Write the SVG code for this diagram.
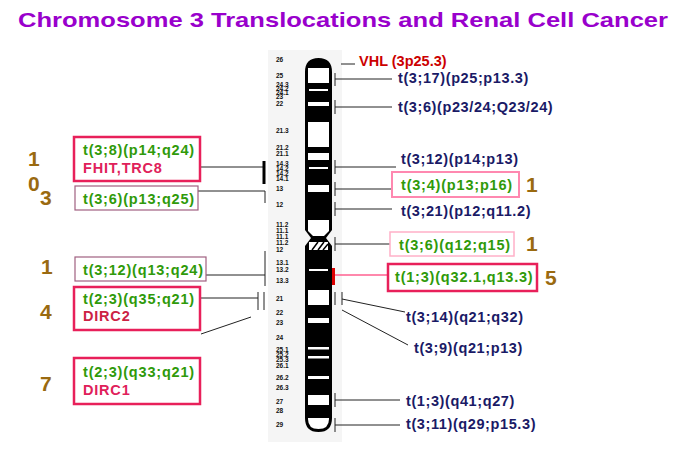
<svg xmlns="http://www.w3.org/2000/svg" width="686" height="462" viewBox="0 0 686 462">
<style>
text{font-family:"Liberation Sans",Arial,sans-serif;font-weight:bold}
.g{fill:#2f9a0a;font-size:14.5px;letter-spacing:0.8px}
.n{fill:#1a1a66;font-size:14.5px;letter-spacing:0.6px}
.r{fill:#e0205a;font-size:14.5px;letter-spacing:0.8px}
.num{fill:#9a6a10;font-size:21px}
.b{fill:#111;font-size:6.5px}
.ln{stroke:#222;stroke-width:1;fill:none}
.bx{fill:none;stroke:#e8205a;stroke-width:2.5}
.bm{fill:none;stroke:#a06080;stroke-width:1.2}
.bp{fill:none;stroke:#ff88b0;stroke-width:2}
.wb{fill:#fff}
</style>
<rect width="686" height="462" fill="#fff"/>
<rect x="268" y="50" width="74" height="392" fill="#f5f5f5"/>
<text x="343" y="27" text-anchor="middle" font-size="21" fill="#9900cc" textLength="650" lengthAdjust="spacingAndGlyphs">Chromosome 3 Translocations and Renal Cell Cancer</text>

<g id="chromosome">
<path d="M305,72 Q305,58 318.5,58 Q332,58 332,72 L332,230 L326,238 L332,246 L332,418 Q332,432 318.5,432 Q305,432 305,418 L305,246 L311,238 L305,230 Z" fill="#000"/>
<rect class="wb" x="308" y="68" width="21" height="15"/>
<rect class="wb" x="309" y="89" width="19" height="2"/>
<rect class="wb" x="308" y="102" width="21" height="4"/>
<rect class="wb" x="308" y="122" width="21" height="25"/>
<rect class="wb" x="308" y="153" width="21" height="7"/>
<rect class="wb" x="309" y="167" width="19" height="2"/>
<rect class="wb" x="308" y="185" width="21" height="7"/>
<path class="wb" d="M308,220 L329,220 L329,231 L324,236 L313,236 L308,231 Z"/>
<path class="wb" d="M309,242 L328,242 L328,250 L309,250 Z"/>
<path d="M312,250 L318,242 M318,250 L324,242 M323,250 L328,244" stroke="#000" stroke-width="1.5"/>
<rect class="wb" x="309" y="269" width="19" height="2"/>
<rect class="wb" x="308" y="290" width="21" height="15"/>
<rect class="wb" x="308" y="318" width="21" height="5"/>
<rect class="wb" x="308" y="347" width="21" height="2.5"/>
<rect class="wb" x="308" y="356" width="21" height="2.5"/>
<rect class="wb" x="308" y="376" width="21" height="3"/>
<rect class="wb" x="308" y="395" width="21" height="10"/>
<path class="wb" d="M308,418 L329,418 L329,419 Q329,429 318.5,429 Q308,429 308,419 Z"/>
<rect x="332" y="268" width="3" height="17" fill="#dd0000"/>
</g>

<g id="band-labels">
<text class="b" x="276" y="62">26</text>
<text class="b" x="276" y="78">25</text>
<text class="b" x="276" y="87">24.3</text>
<text class="b" x="276" y="91">24.2</text>
<text class="b" x="276" y="95">24.1</text>
<text class="b" x="276" y="99">23</text>
<text class="b" x="276" y="106">22</text>
<text class="b" x="276" y="133">21.3</text>
<text class="b" x="276" y="150">21.2</text>
<text class="b" x="276" y="156">21.1</text>
<text class="b" x="276" y="166">14.3</text>
<text class="b" x="276" y="171">14.2</text>
<text class="b" x="276" y="176">14.2</text>
<text class="b" x="276" y="181">14.1</text>
<text class="b" x="276" y="191">13</text>
<text class="b" x="276" y="207">12</text>
<text class="b" x="276" y="227">11.2</text>
<text class="b" x="276" y="233">11.1</text>
<text class="b" x="276" y="239">11.1</text>
<text class="b" x="276" y="245">11.2</text>
<text class="b" x="276" y="252">12</text>
<text class="b" x="276" y="265">13.1</text>
<text class="b" x="276" y="272">13.2</text>
<text class="b" x="276" y="283">13.3</text>
<text class="b" x="276" y="301">21</text>
<text class="b" x="276" y="315">22</text>
<text class="b" x="276" y="325">23</text>
<text class="b" x="276" y="340">24</text>
<text class="b" x="276" y="352">25.1</text>
<text class="b" x="276" y="357">25.2</text>
<text class="b" x="276" y="362">25.3</text>
<text class="b" x="276" y="368">26.1</text>
<text class="b" x="276" y="380">26.2</text>
<text class="b" x="276" y="390">26.3</text>
<text class="b" x="276" y="404">27</text>
<text class="b" x="276" y="413">28</text>
<text class="b" x="276" y="427">29</text>
</g>

<g id="connectors">
<path class="ln" d="M341,64 H355"/>
<path class="ln" d="M335,73 V86 M335,79 H392"/>
<path class="ln" d="M335,100 V114 M335,107 H392"/>
<path class="ln" d="M335,160 V174 M335,167 H396"/>
<path class="ln" d="M335,182 V196 M335,189 H392"/>
<path class="ln" d="M335,202 V216 M335,209 H392"/>
<path class="ln" d="M335,237 V251 M335,244 H390"/>
<path d="M335,275 H388" stroke="#ff6090" stroke-width="1.5"/>
<path class="ln" d="M335,292 V305 M342,292 V305 M342,299 L405,312 M342,310 L408,345"/>
<path class="ln" d="M335,393 V407 M335,400 H400"/>
<path class="ln" d="M335,418 V432 M335,425 H400"/>
<path class="ln" d="M200,167 H264"/>
<path d="M264,161 V184" stroke="#000" stroke-width="3"/>
<path class="ln" d="M198,191 H265 V203"/>
<path class="ln" d="M206,275 H265 M265,251 V286"/>
<path class="ln" d="M200,298 H258 M258,292 V310 M264,292 V310 M201,334 L251,317"/>
</g>

<g id="vhl"><text x="359" y="66" fill="#cc0000" font-size="14.5">VHL (3p25.3)</text></g>
<g id="r1"><text class="n" x="398" y="83">t(3;17)(p25;p13.3)</text></g>
<g id="r2"><text class="n" x="398" y="112">t(3;6)(p23/24;Q23/24)</text></g>
<g id="r3"><text class="n" x="401" y="164">t(3;12)(p14;p13)</text></g>
<g id="r4"><rect class="bp" x="392" y="172" width="127" height="25"/><text class="g" x="401" y="190">t(3;4)(p13;p16)</text><text class="num" x="526" y="192">1</text></g>
<g id="r5"><text class="n" x="401" y="216">t(3;21)(p12;q11.2)</text></g>
<g id="r6"><rect fill="none" stroke="#ffb0c8" stroke-width="1.5" x="390" y="232" width="124" height="24"/><text class="g" x="399" y="250">t(3;6)(q12;q15)</text><text class="num" x="526" y="251">1</text></g>
<g id="r7"><rect class="bx" x="388" y="264" width="149" height="27"/><text class="g" x="395" y="282">t(1;3)(q32.1,q13.3)</text><text class="num" x="545" y="285">5</text></g>
<g id="r8"><text class="n" x="406" y="322">t(3;14)(q21;q32)</text></g>
<g id="r9"><text class="n" x="414" y="353">t(3;9)(q21;p13)</text></g>
<g id="r10"><text class="n" x="406" y="406">t(1;3)(q41;q27)</text></g>
<g id="r11"><text class="n" x="406" y="429">t(3;11)(q29;p15.3)</text></g>

<g id="l1"><rect class="bx" x="74" y="137" width="126" height="44"/><text class="g" x="83" y="155">t(3;8)(p14;q24)</text><text class="r" x="83" y="173">FHIT,TRC8</text><text class="num" x="28" y="166">1</text><text class="num" x="28" y="191">0</text><text class="num" x="40" y="205">3</text></g>
<g id="l2"><rect class="bm" x="75" y="186" width="123" height="24"/><text class="g" x="83" y="204">t(3;6)(p13;q25)</text></g>
<g id="l3"><rect class="bm" x="75" y="257" width="131" height="24"/><text class="g" x="83" y="275">t(3;12)(q13;q24)</text><text class="num" x="41" y="274">1</text></g>
<g id="l4"><rect class="bx" x="74" y="287" width="126" height="43"/><text class="g" x="83" y="304">t(2;3)(q35;q21)</text><text x="83" y="321" fill="#cc2244" font-size="14.5" letter-spacing="0.8">DIRC2</text><text class="num" x="40" y="319">4</text></g>
<g id="l5"><rect class="bx" x="74" y="358" width="126" height="46"/><text class="g" x="83" y="377">t(2;3)(q33;q21)</text><text class="r" x="83" y="395">DIRC1</text><text class="num" x="40" y="391">7</text></g>
</svg>
